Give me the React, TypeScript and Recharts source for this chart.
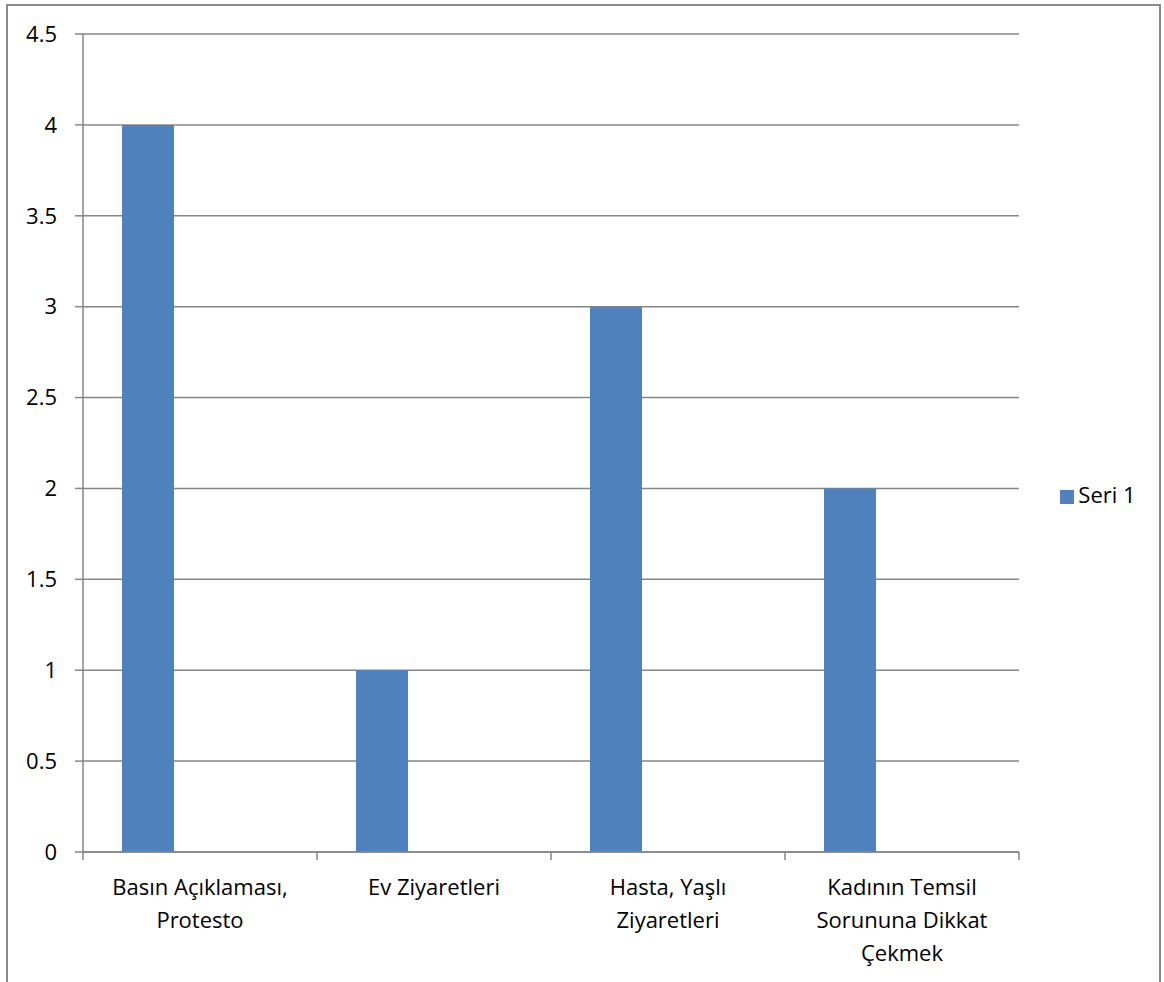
import React from 'react';
import { BarChart, Bar, XAxis, YAxis, CartesianGrid, Legend } from 'recharts';

// Kategoriler ve seri değerleri
const categories = [
  'Basın Açıklaması, Protesto',
  'Ev Ziyaretleri',
  'Hasta, Yaşlı Ziyaretleri',
  'Kadının Temsil Sorununa Dikkat Çekmek',
];
const seri1 = [4, 1, 3, 2];
// Excel grafiğindeki boş seriler (çubuklar sola kaymış görünüyor)
const seri2: (number | null)[] = [null, null, null, null];
const seri3: (number | null)[] = [null, null, null, null];
const yTicks = [0, 0.5, 1, 1.5, 2, 2.5, 3, 3.5, 4, 4.5];

const data = categories.map((name, i) => ({
  name,
  seri1: seri1[i],
  seri2: seri2[i],
  seri3: seri3[i],
}));

const FONT = '"Open Sans", sans-serif';
const FS = 22;
const GRID = '#868686';
const BAR = '#4F81BD';

const W = 1164;
const H = 982;
const MARGIN = { top: 34, right: 145, bottom: 20, left: 0 };
const Y_WIDTH = 83;
const BAND = (W - MARGIN.right - MARGIN.left - Y_WIDTH) / categories.length;

const wrap = (text: string, max = 18) => {
  const lines: string[] = [];
  let cur = '';
  text.split(' ').forEach((w) => {
    const next = cur ? `${cur} ${w}` : w;
    if (next.length > max && cur) {
      lines.push(cur);
      cur = w;
    } else {
      cur = next;
    }
  });
  if (cur) lines.push(cur);
  return lines;
};

const CategoryTick = (props: any) => {
  const { x, y, payload, index } = props;
  const lines = wrap(String(payload.value));
  const axisY = y - 8;
  const left = x - BAND / 2;
  return (
    <g>
      <line x1={left} x2={left} y1={axisY} y2={axisY + 8} stroke={GRID} strokeWidth={1.5} />
      {index === categories.length - 1 && (
        <line x1={left + BAND} x2={left + BAND} y1={axisY} y2={axisY + 8} stroke={GRID} strokeWidth={1.5} />
      )}
      <text x={x} y={axisY + 43} textAnchor="middle" fontFamily={FONT} fontSize={FS} fill="#000">
        {lines.map((l, i) => (
          <tspan key={i} x={x} dy={i === 0 ? 0 : 33}>
            {l}
          </tspan>
        ))}
      </text>
    </g>
  );
};

const App: React.FC = () => {
  return (
    <div style={{ position: 'absolute', left: 0, top: 0, width: W, height: H, overflow: 'hidden', background: '#fff' }}>
      <div
        style={{
          position: 'absolute',
          left: 6,
          top: 4,
          width: 1155,
          height: 1100,
          border: `2px solid #8a8a8a`,
          boxSizing: 'border-box',
        }}
      />
      <div style={{ position: 'absolute', left: 0, top: 0 }}>
        <BarChart
          width={W}
          height={H}
          data={data}
          margin={MARGIN}
          barGap={0}
          barCategoryGap="16.667%"
        >
          <CartesianGrid vertical={false} stroke={GRID} strokeWidth={1.5} />
          <XAxis
            dataKey="name"
            interval={0}
            height={110}
            axisLine={{ stroke: GRID, strokeWidth: 1.5 }}
            tickLine={false}
            tick={<CategoryTick />}
          />
          <YAxis
            width={Y_WIDTH}
            domain={[0, 4.5]}
            ticks={yTicks}
            interval={0}
            axisLine={{ stroke: GRID, strokeWidth: 1.5 }}
            tickLine={{ stroke: GRID, strokeWidth: 1.5 }}
            tickSize={8}
            tickMargin={18}
            tick={{ fontFamily: FONT, fontSize: FS, fill: '#000' }}
          />
          <Legend
            layout="horizontal"
            align="center"
            verticalAlign="middle"
            iconType="square"
            iconSize={14}
            wrapperStyle={{ left: 1048, top: 479, width: 110, fontFamily: FONT, fontSize: FS, textAlign: 'left' }}
            formatter={(v) => <span style={{ color: '#000' }}>{v}</span>}
          />
          <Bar dataKey="seri1" name="Seri 1" fill={BAR} isAnimationActive={false} />
          <Bar dataKey="seri2" name="Seri 2" fill="#C0504D" legendType="none" isAnimationActive={false} />
          <Bar dataKey="seri3" name="Seri 3" fill="#9BBB59" legendType="none" isAnimationActive={false} />
        </BarChart>
      </div>
    </div>
  );
};

export default App;
